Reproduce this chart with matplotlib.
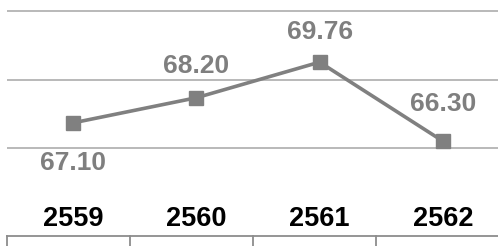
import matplotlib
matplotlib.use("Agg")
import matplotlib.pyplot as plt
from matplotlib.lines import Line2D
from matplotlib.transforms import blended_transform_factory

years = ["2559", "2560", "2561", "2562"]
values = [67.10, 68.20, 69.76, 66.30]
label_offsets = [-40, 32, 30, 37]  # pixels, negative = below the point
grid_values = [66, 69, 72]

W, H = 498, 246
plt.rcParams['font.family'] = ['Liberation Sans', 'DejaVu Sans']

fig = plt.figure(figsize=(W / 100, H / 100), dpi=100)

# axes spans the full height; y scale chosen so the grid lines sit where they do
px_per_unit = 68.5 / 3
ax = fig.add_axes([7 / W, 0, (W - 7) / W, 1])
ax.set_ylim(66 - (H - 148) / px_per_unit, 66 + 148 / px_per_unit)
ax.set_xlim(-0.535, 3.447)
ax.axis('off')

for g in grid_values:
    ax.axhline(g, color='#b3b3b3', lw=1.3, zorder=1)

x = list(range(len(years)))
ax.plot(x, values, color='#808080', lw=2.6, marker='s', markersize=9.5,
        markerfacecolor='#808080', markeredgecolor='#808080', zorder=3)

for i, v in enumerate(values):
    ax.annotate(f"{v:.2f}", (i, v), xytext=(0, label_offsets[i]),
                textcoords='offset pixels', ha='center', va='center',
                fontsize=19, fontweight='bold', color='#7f7f7f')

# year labels under the chart
trans = blended_transform_factory(ax.transData, fig.transFigure)
for i, y in enumerate(years):
    ax.text(i, 1 - 219 / H, y, transform=trans, ha='center', va='center',
            fontsize=19.5, fontweight='bold', color='black')

# top of the table below
line_kw = dict(color='#8c8c8c', lw=1.3, transform=fig.transFigure)
fig.add_artist(Line2D([7 / W, 1], [1 - 236 / H, 1 - 236 / H], **line_kw))
for xp in [7, 130, 253, 376]:
    fig.add_artist(Line2D([xp / W, xp / W], [1 - 236 / H, 0], **line_kw))

fig.savefig("out.png", dpi=100)
